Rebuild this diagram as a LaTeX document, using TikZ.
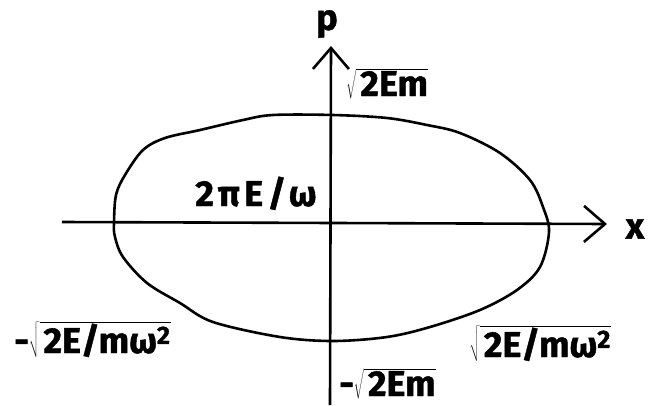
\documentclass[tikz,border=0pt]{standalone}
\usepackage{fontspec}
\setmainfont{Fira Sans}[BoldFeatures={FakeBold=1.2}]
\usetikzlibrary{arrows.meta}
\newcommand{\rt}[1]{$\sqrt{\rule[-3pt]{0pt}{29pt}\hbox{\kern4pt#1}}$}
\begin{document}
\begin{tikzpicture}[x=1pt,y=-1pt,line width=2.6pt,
  lbl/.style={font=\fontsize{36}{42}\selectfont\bfseries,inner sep=0pt},
  barb/.style={-{Straight Barb[length=21pt,width=36pt,line width=2.6pt]}}]
\useasboundingbox (0,0) rectangle (657,405);
\coordinate (xs) at (62,222);
\coordinate (xe) at (607,224);
\coordinate (ys) at (330,405);
\coordinate (ye) at (331,46);
\draw[barb] (xs) -- (xe);
\draw[barb] (ys) -- (ye);
\draw plot[smooth cycle,tension=0.55] coordinates {
 (114,223) (116,195) (125,175) (143,150) (165,138) (200,130) (243,120) (273,115)
 (333,115) (387,118) (427,125) (460,133) (500,153) (530,180) (543,207) (549,232)
 (540,267) (517,290) (480,310) (430,327) (387,337) (333,341)
 (280,337) (213,322) (180,303) (147,283) (123,257) (115,237)};
\node[lbl] (p) at (327,24) {p};
\node[lbl] (x) at (635,229) {x};
\node[lbl,anchor=base west] (pt) at (345,96) {\rt{2Em}};
\node[lbl,anchor=base west] (pb) at (338,396) {-\rt{2Em}};
\node[lbl,anchor=base] (area) at (256,206) {\addfontfeature{LetterSpace=12}2πE/ω};
\node[lbl,anchor=base west] (xl) at (13,353) {-\rt{2E/mω\smash{\textsuperscript{2}}}};
\node[lbl,anchor=base west] (xr) at (468,357) {\rt{2E/mω\smash{\textsuperscript{2}}}};
\end{tikzpicture}
\end{document}
